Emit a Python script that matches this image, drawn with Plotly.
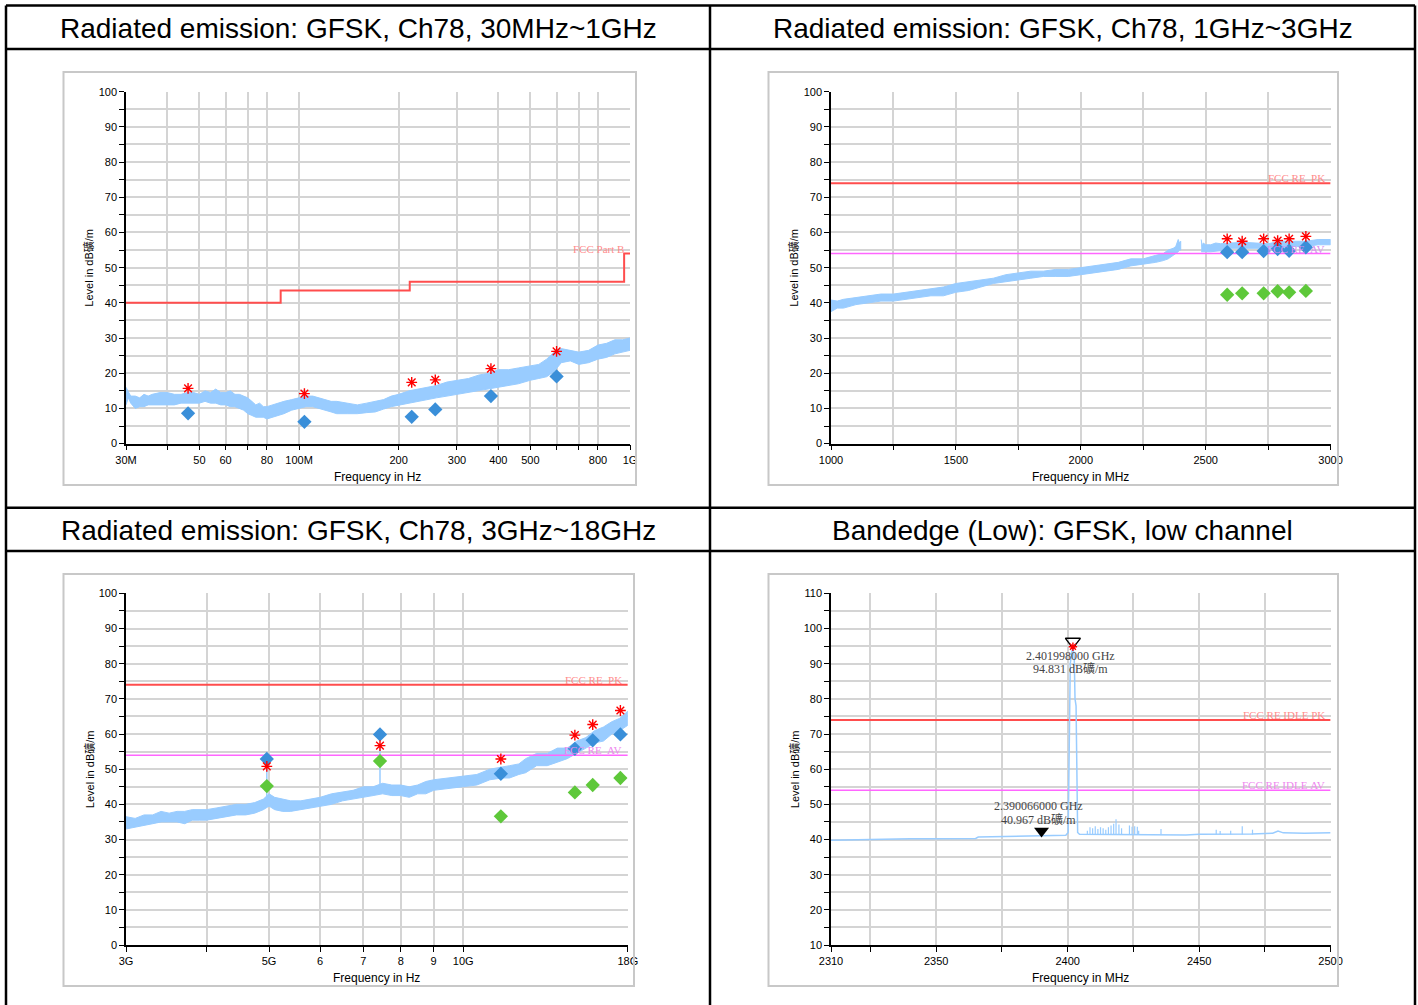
import math
import plotly.graph_objects as go

W, H = 1418, 1005

titles = ["Radiated emission: GFSK, Ch78, 30MHz~1GHz",
          "Radiated emission: GFSK, Ch78, 1GHz~3GHz",
          "Radiated emission: GFSK, Ch78, 3GHz~18GHz",
          "Bandedge (Low): GFSK, low channel"]
ytitle = "Level in dB礦/m"

# --- panel 1: 30MHz~1GHz (MHz, log) ---
p1_f = [30, 30.5, 31, 32, 33, 34, 35, 36, 38, 40, 42, 44, 46, 48, 50, 52, 54, 56, 58, 60, 62,
        64, 66, 68, 70, 72, 74, 76, 78, 80, 83, 86, 90, 95, 100, 105, 110, 115, 120, 125, 130,
        140, 150, 160, 170, 180, 190, 200, 215, 230, 245, 260, 280, 300, 325, 350, 375, 400,
        430, 460, 500, 530, 560, 590, 620, 660, 700, 750, 800, 850, 900, 950, 1000]
p1_lo = [11, 13, 11.5, 10, 10.5, 10.5, 11, 11, 11, 11, 11, 11.5, 11.5, 11.5, 11.5, 12, 11.5,
         11.5, 11, 11, 10.5, 10.5, 10, 9.5, 8.5, 8, 7.5, 7.5, 7.5, 7, 7.5, 8, 8.5, 9.5, 10,
         10.5, 10.5, 10, 9.5, 9, 8.5, 8.5, 8.5, 8.8, 9, 9.8, 10.5, 11, 11.5, 12, 12.5, 13,
         13.5, 14, 14.5, 15, 15.5, 16, 16.5, 17, 18, 18.5, 19, 20.5, 23, 23.5, 22.5, 23, 24,
         24.5, 25.5, 26, 26.5]
p1_hi = [16, 14.5, 13.5, 13.5, 13, 14, 13.5, 14, 14.5, 14.5, 14, 14, 14.5, 14.5, 14, 15,
         14.5, 15.5, 14.5, 14.5, 15, 14, 14, 13.5, 13, 12, 11, 11.5, 10.5, 10.5, 11, 11.5, 12,
         12.5, 13, 13.5, 13.5, 13, 12.5, 12, 12, 11.5, 11, 11.5, 12, 12.5, 13.5, 14, 15,
         15.5, 16, 16.5, 17.5, 18, 18.5, 19.5, 20, 21, 21, 21.5, 22, 22.5, 24, 26, 27, 26.5,
         26, 26.5, 28, 28.5, 29.5, 29.5, 30]
p1_lim_f = [30, 88, 88, 216, 216, 960, 960, 1000]
p1_lim = [40, 40, 43.5, 43.5, 46, 46, 54, 54]
p1_mk_f = [46.2, 103.8, 219, 258, 380, 600]
p1_pk = [15.7, 14.2, 17.4, 18.1, 21.3, 26.2]
p1_qp = [8.6, 6.2, 7.6, 9.7, 13.5, 19.1]
p1_tick = [30, 40, 50, 60, 70, 80, 100, 200, 300, 400, 500, 600, 700, 800, 1000]
p1_ticktext = ["30M", "", "50", "60", "", "80", "100M", "200", "300", "400", "500", "", "",
               "800", "1G"]

# --- panel 2: 1GHz~3GHz (MHz, linear) ---
p2a_f = [1000, 1025, 1050, 1100, 1150, 1200, 1250, 1300, 1350, 1400, 1450, 1500, 1550, 1600,
         1650, 1700, 1750, 1800, 1850, 1900, 1950, 2000, 2050, 2100, 2150, 2200, 2250, 2300,
         2330, 2350, 2370, 2380, 2390, 2395, 2400]
p2a_lo = [37.5, 38.5, 38.5, 39.5, 40, 40.5, 40.5, 41, 41.5, 42, 42, 43, 43.5, 44.5, 45.5, 46,
          46.5, 47, 47.5, 47.5, 47.5, 48, 48.5, 49, 49.5, 50.5, 51, 51.5, 52, 52.5, 53.5,
          54, 54.5, 55, 55]
p2a_hi = [40.8, 40.5, 41, 41.5, 42, 42.5, 42.5, 43, 43.5, 44, 44.5, 45.5, 46, 46.5, 47, 48,
          48.5, 49, 49, 49.5, 49.5, 50, 50.5, 51, 51.5, 52.5, 52.5, 53.5, 54, 55, 55.5, 56,
          58, 57, 57.5]
p2b_f = [2482, 2486, 2490, 2500, 2520, 2540, 2560, 2580, 2600, 2650, 2700, 2750, 2800, 2850,
         2900, 2950, 3000]
p2b_lo = [54.5, 54.5, 54.5, 54.5, 54.5, 54.8, 54.8, 55, 55.5, 55.5, 55.5, 55.5, 55.5, 56, 56,
          56.5, 56.5]
p2b_hi = [58, 56, 57, 56.5, 56.5, 57, 56.8, 57, 57, 57.2, 57, 56.8, 57.5, 57.5, 57.5, 58, 58]
p2_mk_f = [2586, 2646, 2732, 2788, 2834, 2901]
p2_pk = [58.2, 57.5, 58.2, 57.7, 58.2, 58.9]
p2_qp = [54.4, 54.4, 54.7, 55.3, 54.8, 55.8]
p2_av = [42.3, 42.7, 42.7, 43.3, 43.0, 43.4]
p2_tick = [1000, 1250, 1500, 1750, 2000, 2250, 2500, 2750, 3000]
p2_ticktext = ["1000", "", "1500", "", "2000", "", "2500", "", "3000"]

# --- panel 3: 3GHz~18GHz (GHz, log) ---
p3_f = [3.0, 3.1, 3.2, 3.3, 3.4, 3.5, 3.6, 3.7, 3.8, 3.9, 4.0, 4.15, 4.3, 4.45, 4.6, 4.75, 4.9,
        5.0, 5.1, 5.25, 5.4, 5.6, 5.8, 6.0, 6.25, 6.5, 6.75, 7.0, 7.25, 7.5, 7.75, 8.0, 8.25,
        8.5, 8.75, 9.0, 9.5, 10.0, 10.5, 11.0, 11.5, 11.8, 12.2, 12.5, 13.0, 13.5, 14.0,
        14.5, 15.0, 15.5, 16.0, 16.5, 17.0, 17.5, 18.0]
p3_lo = [33, 33.5, 34, 34.5, 35, 35, 35, 34.5, 35.5, 35.5, 35.5, 36, 36.5, 37, 37, 37.5, 38.5,
         39.5, 38.5, 38, 38, 38.5, 39, 39.5, 40, 41, 41.5, 42, 42.5, 43, 42.5, 42.5, 42, 43,
         43, 44, 44.5, 45, 45.5, 47, 47.5, 47.5, 48.5, 49, 51, 51, 52, 53, 54.5, 56, 57.5, 58,
         60, 61, 62.5]
p3_hi = [36.5, 36, 37, 37, 38, 37.5, 38, 38, 38.5, 38.5, 38.5, 39, 39.5, 40, 40, 40.5, 41.5,
         43, 42, 41.5, 41, 41, 41.5, 42, 43, 43.5, 44, 45, 45, 46, 45.5, 45.5, 45, 45.5, 46.5,
         47, 47.5, 48, 48.5, 50, 50.5, 51, 51.5, 53, 54.5, 54.5, 56, 56, 58, 59, 61, 62,
         63.5, 64.5, 66.5]
p3_spk_f = [4.96, 7.43]
p3_spk_lo = [41, 45]
p3_spk_hi = [52.9, 56.7]
p3_mk_f = [4.96, 7.43, 11.44, 14.9, 15.88, 17.53]
p3_pk = [50.8, 56.7, 52.9, 59.7, 62.7, 66.7]
p3_qp = [52.9, 59.9, 48.7, 55.8, 58.2, 59.9]
p3_av = [45.2, 52.3, 36.6, 43.4, 45.5, 47.5]
p3_tick = [3, 4, 5, 6, 7, 8, 9, 10, 18]
p3_ticktext = ["3G", "", "5G", "6", "7", "8", "9", "10G", "18G"]

# --- panel 4: bandedge 2310~2500 MHz ---
p4_f = [2310, 2315, 2320, 2330, 2335, 2340, 2350, 2365, 2366, 2375, 2380, 2385, 2390, 2395,
        2399.3, 2400.2, 2400.6, 2401.0, 2401.5, 2402.0, 2402.5, 2402.8, 2403.2, 2403.5,
        2403.8, 2404.5, 2430, 2445, 2450, 2460, 2470, 2478, 2480, 2482, 2490, 2500]
p4_lv = [39.8, 39.9, 40.0, 40.1, 40.2, 40.2, 40.2, 40.3, 40.7, 40.8, 40.9, 41.0, 40.97, 41.1,
         41.2, 42, 70, 90, 93, 94.8, 92, 80, 78, 60, 42, 41.5, 41.4, 41.3, 41.5, 41.5, 41.6,
         41.8, 42.4, 41.9, 41.8, 41.9]
p4_spk_f = [2407.5, 2408.5, 2409.5, 2410.5, 2411.5, 2412.5, 2413.5, 2414.5, 2415.5, 2416.5,
            2417.5, 2418.4, 2419.5, 2420.5, 2423.5, 2424.5, 2425.5, 2426.5, 2427, 2435.5,
            2456.5, 2458, 2462, 2466.4, 2470.3]
p4_spk_hi = [42.5, 43.5, 43.2, 43.8, 43.0, 43.5, 43.2, 42.8, 43.5, 44.0, 44.5, 45.8, 44.3, 43.2,
             44.0, 43.6, 43.8, 43.6, 42.5, 43.0, 42.8, 42.4, 42.5, 43.8, 42.8]
p4_spk_lo = 41.4
p4_mk = [(2402.0, 96.3, "triangle-down-open"), (2390.066, 42.4, "triangle-down")]
p4_peak = (2402.0, 94.831)
p4_note = [(2401.0, "2.401998000 GHz", "94.831 dB礦/m", 92.3, 88.6),
           (2389.0, "2.390066000 GHz", "40.967 dB礦/m", 49.6, 45.8)]
p4_tick = [2310, 2325, 2350, 2375, 2400, 2425, 2450, 2475, 2500]
p4_ticktext = ["2310", "", "2350", "", "2400", "", "2450", "", "2500"]

BAND = "#99ccff"
RED = "#ff4d4d"
MAG = "#ff66ff"
BLUE = "#3a8fd9"
GREEN = "#5ec83a"
SANS = "Liberation Sans, Arial, Noto Sans CJK SC"
SERIF = "Liberation Serif, DejaVu Serif, Noto Sans CJK SC"

# panel boxes in pixels: plot area (x0, x1, y0, y1) and outer frame
panels = [
    dict(plot=(126, 630, 91.7, 443.6), frame=(63.5, 636, 72, 485)),
    dict(plot=(831, 1330.6, 91.7, 443.6), frame=(768.5, 1338, 72, 485)),
    dict(plot=(126, 627.8, 593.4, 945), frame=(63.5, 634, 574, 986)),
    dict(plot=(831, 1330.6, 593.4, 945), frame=(768.5, 1338, 574, 986)),
]


def px(x):
    return x / W


def py(y):
    return 1 - y / H


fig = go.Figure()
shapes = []
annos = []


def band(f, lo, hi, n):
    fig.add_trace(go.Scatter(
        x=list(f) + list(f)[::-1], y=list(hi) + list(lo)[::-1],
        fill="toself", fillcolor=BAND, mode="lines", line=dict(color=BAND, width=1),
        xaxis="x" + n, yaxis="y" + n, hoverinfo="skip"))


def line(x, y, color, width, n):
    fig.add_trace(go.Scatter(x=x, y=y, mode="lines", line=dict(color=color, width=width),
                             xaxis="x" + n, yaxis="y" + n))


def marks(x, y, symbol, color, size, n, open_=False):
    if open_:
        mk = dict(symbol=symbol, size=size, color=color, line=dict(color=color, width=1.4))
    else:
        mk = dict(symbol=symbol, size=size, color=color, line=dict(width=0))
    fig.add_trace(go.Scatter(x=x, y=y, mode="markers", marker=mk, xaxis="x" + n, yaxis="y" + n))


def spikes(f, lo, hi, color, width, n):
    xs, ys = [], []
    for i, v in enumerate(f):
        xs += [v, v, None]
        ys += [lo[i] if isinstance(lo, list) else lo, hi[i], None]
    line(xs, ys, color, width, n)


def label(n, x, y, text, color):
    # x is already in axis coordinates (log10 for log axes)
    annos.append(dict(x=x, y=y, xref="x" + n, yref="y" + n, text=text, showarrow=False,
                      xanchor="right", yanchor="bottom", xshift=-4, yshift=-3,
                      font=dict(family=SERIF, size=11, color=color)))


def paper_text(x, y, text, size, angle=0):
    annos.append(dict(xref="paper", yref="paper", x=px(x), y=py(y), text=text,
                      textangle=angle, showarrow=False, xanchor="center", yanchor="middle",
                      font=dict(family=SANS, size=size, color="black")))


# panel 1
band(p1_f, p1_lo, p1_hi, "")
line(p1_lim_f, p1_lim, RED, 2, "")
marks(p1_mk_f, p1_qp, "diamond", BLUE, 11, "")
marks(p1_mk_f, p1_pk, "asterisk", "red", 9, "", open_=True)
label("", math.log10(1000), 54, "FCC\u00a0Part\u00a0B", "#ff8c8c")

# panel 2
band(p2a_f, p2a_lo, p2a_hi, "2")
band(p2b_f, p2b_lo, p2b_hi, "2")
line([1000, 3000], [74, 74], RED, 2, "2")
line([1000, 3000], [54, 54], MAG, 1.5, "2")
marks(p2_mk_f, p2_qp, "diamond", BLUE, 11, "2")
marks(p2_mk_f, p2_av, "diamond", GREEN, 11, "2")
marks(p2_mk_f, p2_pk, "asterisk", "red", 9, "2", open_=True)
label("2", 3000, 74, "FCC\u00a0RE\u00a0\u00a0PK", "#ff8c8c")
label("2", 3000, 54, "FCC\u00a0RE\u00a0\u00a0AV", "#d98cf0")

# panel 3
band(p3_f, p3_lo, p3_hi, "3")
spikes(p3_spk_f, p3_spk_lo, p3_spk_hi, BAND, 1.5, "3")
line([3, 18], [74, 74], RED, 2, "3")
line([3, 18], [54, 54], MAG, 1.5, "3")
marks(p3_mk_f, p3_qp, "diamond", BLUE, 11, "3")
marks(p3_mk_f, p3_av, "diamond", GREEN, 11, "3")
marks(p3_mk_f, p3_pk, "asterisk", "red", 9, "3", open_=True)
label("3", math.log10(18), 74, "FCC\u00a0RE\u00a0\u00a0PK", "#ff8c8c")
label("3", math.log10(18), 54, "FCC\u00a0RE\u00a0\u00a0AV", "#ee88ee")

# panel 4
line([2310, 2500], [74, 74], RED, 2, "4")
line([2310, 2500], [54, 54], MAG, 1.5, "4")
line(p4_f, p4_lv, BAND, 1.5, "4")
spikes(p4_spk_f, p4_spk_lo, p4_spk_hi, BAND, 1.2, "4")
for fx, fy, sym in p4_mk:
    marks([fx], [fy], sym, "black", 13, "4", open_=sym.endswith("open"))
marks([p4_peak[0]], [p4_peak[1]], "asterisk", "red", 7, "4", open_=True)
for fx, t1, t2, y1, y2 in p4_note:
    for t, yy in ((t1, y1), (t2, y2)):
        annos.append(dict(x=fx, y=yy, xref="x4", yref="y4", text=t, showarrow=False,
                          xanchor="center", yanchor="middle",
                          font=dict(family=SERIF, size=12, color="#444444")))
label("4", 2500, 74, "FCC\u00a0RE\u00a0IDLE\u00a0PK", "#ff8c8c")
label("4", 2500, 54, "FCC\u00a0RE\u00a0IDLE\u00a0AV", "#ee88ee")

# axes
xcfg = [
    dict(type="log", range=[math.log10(30), 3.0], tickvals=p1_tick, ticktext=p1_ticktext),
    dict(range=[1000, 3000], tickvals=p2_tick, ticktext=p2_ticktext),
    dict(type="log", range=[math.log10(3), math.log10(18)], tickvals=p3_tick,
         ticktext=p3_ticktext),
    dict(range=[2310, 2500], tickvals=p4_tick, ticktext=p4_ticktext),
]
y100 = list(range(0, 101, 5))
y110 = list(range(10, 111, 5))
ycfg = [
    dict(range=[0, 100], tickvals=y100, ticktext=[str(v) if v % 10 == 0 else "" for v in y100]),
    dict(range=[0, 100], tickvals=y100, ticktext=[str(v) if v % 10 == 0 else "" for v in y100]),
    dict(range=[0, 100], tickvals=y100, ticktext=[str(v) if v % 10 == 0 else "" for v in y100]),
    dict(range=[10, 110], tickvals=y110, ticktext=[str(v) if v % 10 == 0 else "" for v in y110]),
]
xtitles = ["Frequency in Hz", "Frequency in MHz", "Frequency in Hz", "Frequency in MHz"]

common = dict(showline=True, linecolor="black", linewidth=1.5, ticks="outside", ticklen=5,
              tickwidth=1.3, tickcolor="black", showgrid=True, gridcolor="#d4d4d4",
              gridwidth=1.5, zeroline=False, fixedrange=True, automargin=False,
              tickfont=dict(family=SANS, size=11, color="black"))

layout_axes = {}
for i, p in enumerate(panels):
    s = "" if i == 0 else str(i + 1)
    x0, x1, y0, y1 = p["plot"]
    layout_axes["xaxis" + s] = dict(common, domain=[px(x0), px(x1)], anchor="y" + s,
                                    tickangle=0, **xcfg[i])
    layout_axes["yaxis" + s] = dict(common, domain=[py(y1), py(y0)], anchor="x" + s, **ycfg[i])
    fx0, fx1, fy0, fy1 = p["frame"]
    shapes.append(dict(type="rect", xref="paper", yref="paper", x0=px(fx0), x1=px(fx1),
                       y0=py(fy1), y1=py(fy0), line=dict(color="#c8c8c8", width=2)))
    paper_text(x0 - 37, (y0 + y1) / 2, ytitle, 11, angle=-90)
    paper_text((x0 + x1) / 2, y1 + 33, xtitles[i], 12)

# table grid and headers
for x in (6, 710, 1415):
    shapes.append(dict(type="line", xref="paper", yref="paper", x0=px(x), x1=px(x),
                       y0=py(5.5), y1=py(1005), line=dict(color="black", width=2.5)))
for y in (5.5, 49, 507.7, 551):
    shapes.append(dict(type="line", xref="paper", yref="paper", x0=px(6), x1=px(1415),
                       y0=py(y), y1=py(y), line=dict(color="black", width=2.5)))
for t, cx, cy in zip(titles, [358, 1062.5, 358, 1062.5], [28, 28, 530, 530]):
    paper_text(cx, cy, t, 28)

fig.update_layout(
    width=W, height=H, margin=dict(l=0, r=0, t=0, b=0, pad=0), autosize=False,
    paper_bgcolor="white", plot_bgcolor="white", showlegend=False,
    shapes=shapes, annotations=annos, **layout_axes)

fig.write_html("out.html", config={"displayModeBar": False},
               post_script="document.body.style.margin='0';document.body.style.overflow='hidden';")
